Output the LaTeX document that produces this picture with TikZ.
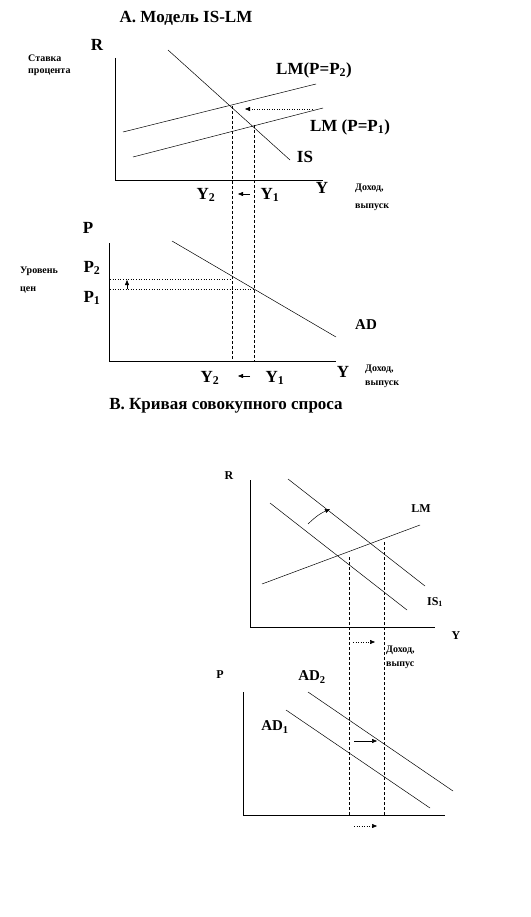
\documentclass[tikz,border=0pt]{standalone}
\usepackage{fontspec}
\setmainfont{Liberation Serif}
\usetikzlibrary{arrows.meta}
\tikzset{
  axisline/.style={line width=0.6pt, black},
  econcurve/.style={line width=0.5pt, black},
  guideline/.style={line width=0.6pt, dash pattern=on 3pt off 2pt},
  levelline/.style={line width=0.6pt, dotted},
  movearr/.style={-{Triangle[length=5pt,width=4pt]}, line width=0.5pt},
  bigtxt/.style={font=\fontsize{17}{17}\selectfont\bfseries, inner sep=0pt},
  adtxt/.style={font=\fontsize{15}{15}\selectfont\bfseries, inner sep=0pt},
  midtxt/.style={font=\fontsize{12}{12}\selectfont\bfseries, inner sep=0pt},
  smalltxt/.style={font=\fontsize{10}{10}\selectfont\bfseries, inner sep=0pt, anchor=west},
}
\begin{document}
\begin{tikzpicture}[x=1pt, y=-1pt]
\useasboundingbox (0,0) rectangle (530,917);
% ---- A. IS-LM ----
\node[bigtxt] (titleA) at (186,18) {А. Модель IS-LM};
\node[bigtxt] (rA) at (97,45) {R};
\node[smalltxt] (rateA) at (28,58) {Ставка};
\node[smalltxt] (rateB) at (28,72) {процента};
\draw[axisline] (115,58) -- (115,180) -- (323,180);
\draw[econcurve] (168,50) -- (290,160);
\draw[econcurve] (123,132) -- (316,84);
\draw[econcurve] (133,157) -- (323,108);
\node[bigtxt] (lmtwo) at (314,70) {LM(P=P\textsubscript{2})};
\node[bigtxt] (lmone) at (350,127) {LM (P=P\textsubscript{1})};
\node[bigtxt] (isA) at (305,157) {IS};
\draw[movearr, dotted] (312,109) -- (245,109);
\node[bigtxt] (ytwoA) at (206,195) {Y\textsubscript{2}};
\node[bigtxt] (yoneA) at (270,195) {Y\textsubscript{1}};
\draw[movearr] (250,194) -- (238,194);
\node[bigtxt] (yA) at (322,188) {Y};
\node[smalltxt] (incA) at (355,188) {Доход,};
\node[smalltxt] (outA) at (355,207) {выпуск};
% dashed guides down to the AD panel
\draw[guideline] (232,106) -- (232,361);
\draw[guideline] (254,125) -- (254,361);
% ---- B. AD curve ----
\node[bigtxt] (pB) at (88,228) {P};
\draw[axisline] (109,243) -- (109,361) -- (336,361);
\draw[econcurve] (172,241) -- (336,337);
\node[adtxt] (adB) at (366,325) {AD};
\node[bigtxt] (ptwo) at (92,268) {P\textsubscript{2}};
\node[bigtxt] (pone) at (92,298) {P\textsubscript{1}};
\node[smalltxt] (lvlA) at (20,271) {Уровень};
\node[smalltxt] (lvlB) at (20,290) {цен};
\draw[levelline] (110,279) -- (232,279);
\draw[levelline] (110,289) -- (254,289);
\draw[movearr] (127,289) -- (127,280);
\node[bigtxt] (ytwoB) at (210,378) {Y\textsubscript{2}};
\node[bigtxt] (yoneB) at (275,378) {Y\textsubscript{1}};
\draw[movearr] (250,376) -- (238,376);
\node[bigtxt] (yB) at (343,372) {Y};
\node[smalltxt] (incB) at (365,369) {Доход,};
\node[smalltxt] (outB) at (365,384) {выпуск};
\node[bigtxt] (titleB) at (226,406) {В. Кривая совокупного спроса};
% ---- IS shift ----
\node[midtxt] (rC) at (229,476) {R};
\draw[axisline] (250,480) -- (250,627) -- (435,627);
\draw[econcurve] (270,503) -- (407,610);
\draw[econcurve] (288,479) -- (425,586);
\draw[econcurve] (262,584) -- (420,525);
\node[midtxt] (lmC) at (421,509) {LM};
\node[midtxt] (isC) at (435,602) {IS\textsubscript{1}};
\draw[movearr] (308,524) to[bend left=10] (330,509);
\draw[guideline] (349,557) -- (349,815);
\draw[guideline] (384,542) -- (384,815);
\draw[movearr, dotted] (353,642) -- (375,642);
\node[midtxt] (yC) at (456,636) {Y};
\node[smalltxt] (incC) at (386,650) {Доход,};
\node[smalltxt] (outC) at (386,665) {выпус};
% ---- AD shift ----
\node[midtxt] (pD) at (220,675) {P};
\draw[axisline] (243,692) -- (243,815) -- (445,815);
\draw[econcurve] (308,692) -- (453,791);
\draw[econcurve] (286,710) -- (430,808);
\node[adtxt] (adtwo) at (312,677) {AD\textsubscript{2}};
\node[adtxt] (adone) at (275,727) {AD\textsubscript{1}};
\draw[movearr] (354,741) -- (377,741);
\draw[movearr, dotted] (354,826) -- (377,826);
\end{tikzpicture}
\end{document}
